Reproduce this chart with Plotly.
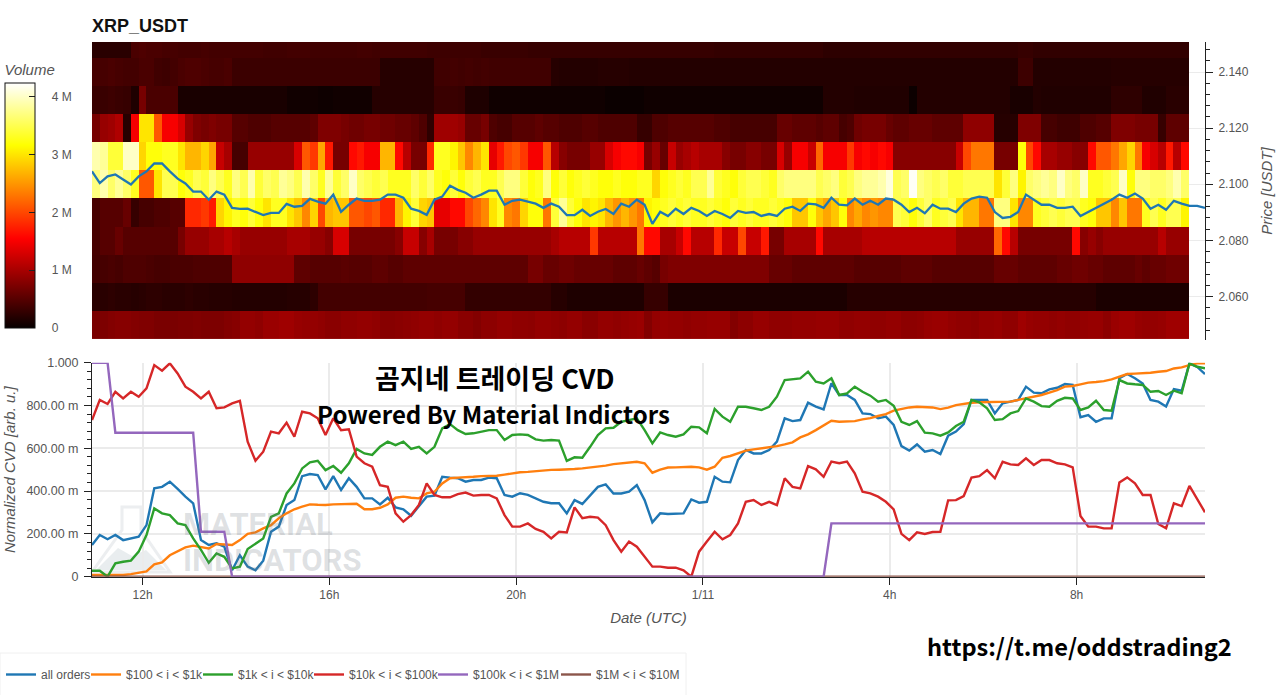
import pandas as pd
import plotly.graph_objects as go

# ---------- data ----------
start = "2025-01-10 10:55"
row_prices = [2.15, 2.14, 2.13, 2.12, 2.11, 2.10, 2.09, 2.08, 2.07, 2.06, 2.05]

v215 = [.22,.22,.22,.22,.22,.42,.45,.42,.42,.40,
        .40,.38,.38,.38,.40,.38,.38,.38,.38,.38,
        .38,.38,.36,.36,.36,.38,.38,.38,.36,.36,
        .36,.36,.36,.36,.38,.38,.36,.36,.36,.36,
        .36,.36,.36,.34,.34,.34,.34,.34,.34,.34,
        .32,.32,.32,.32,.32,.32,.30,.30,.30,.30,
        .30,.30,.30,.30,.30,.30,.30,.30,.30,.30,
        .30,.30,.30,.30,.30,.30,.30,.30,.30,.30,
        .28,.28,.28,.28,.28,.28,.28,.28,.28,.28,
        .28,.28,.28,.28,.24,.24,.24,.24,.24,.24,
        .27,.27,.27,.27,.27,.27,.27,.27,.27,.27,
        .27,.27,.27,.27,.27,.27,.27,.27,.27,.30,
        .30,.27,.27,.27,.27,.27,.27,.27,.27,.27,
        .27,.27,.27,.27,.27,.27,.27,.27,.27,.27,
        .27]
v214 = [.40,.40,.42,.40,.38,.38,.42,.42,.36,.34,
        .38,.42,.45,.45,.42,.40,.40,.42,.33,.33,
        .33,.33,.33,.33,.33,.33,.33,.33,.33,.33,
        .33,.33,.33,.33,.33,.33,.33,.20,.20,.20,
        .20,.20,.20,.20,.36,.36,.38,.36,.38,.36,
        .38,.36,.36,.36,.36,.36,.36,.36,.36,.20,
        .18,.18,.18,.18,.18,.20,.20,.20,.20,.18,
        .18,.18,.18,.18,.18,.18,.18,.18,.18,.18,
        .18,.18,.18,.18,.18,.18,.18,.18,.18,.18,
        .18,.18,.18,.18,.18,.18,.18,.18,.18,.18,
        .18,.18,.18,.18,.18,.18,.18,.18,.18,.18,
        .18,.18,.18,.18,.18,.18,.18,.18,.18,.34,
        .34,.18,.18,.18,.18,.18,.18,.18,.18,.18,
        .18,.20,.20,.20,.20,.20,.20,.20,.20,.20,
        .20]
v213 = [.32,.32,.34,.32,.30,.15,.70,.42,.42,.42,
        .42,.12,.12,.12,.12,.12,.12,.12,.12,.12,
        .12,.12,.12,.12,.12,.07,.07,.07,.07,.05,
        .05,.07,.07,.07,.07,.07,.20,.20,.20,.20,
        .20,.20,.20,.20,.32,.32,.32,.30,.15,.15,
        .15,.06,.06,.06,.06,.06,.06,.06,.06,.06,
        .06,.06,.06,.06,.06,.06,.03,.03,.03,.03,
        .03,.06,.06,.06,.06,.06,.06,.06,.06,.06,
        .06,.06,.06,.06,.06,.06,.06,.06,.06,.06,
        .06,.06,.06,.06,.18,.18,.18,.18,.16,.16,
        .16,.16,.16,.16,.16,.04,.18,.18,.18,.18,
        .18,.18,.18,.18,.18,.18,.18,.18,.12,.12,
        .12,.18,.16,.16,.16,.16,.16,.16,.16,.16,
        .16,.25,.25,.25,.25,.16,.16,.16,.22,.22,
        .22]
v212 = [.70,.90,.95,1.05,.20,1.50,3.00,3.00,2.10,1.50,
        1.50,1.30,.90,.75,.70,.75,.70,.70,.50,.50,
        .45,.45,.45,.50,.50,.50,.50,.50,.55,.75,
        .75,.75,.70,.65,.65,.70,.70,.65,.65,.60,
        .60,.55,.45,.25,.95,.95,.95,.90,.60,.60,
        .70,.45,.40,.40,.50,.50,.50,.55,.50,.50,
        .45,.45,.45,.50,.50,.45,.45,.45,.45,.45,
        .30,.30,.45,.45,.50,.50,.50,.50,.50,.50,
        .45,.45,.40,.40,.40,.40,.40,.40,.60,.60,
        .55,.55,.55,.50,.55,.55,.40,.45,.65,.70,
        .70,.70,.60,.55,.55,.60,.60,.60,.55,.55,
        .55,.55,.85,.85,.85,.85,.20,.20,.20,.75,
        .75,.75,.40,.40,.35,.35,.35,.45,.45,.50,
        .50,.75,.75,.75,.70,.70,.70,.30,.55,.55,
        .55]
v211 = [3.9,3.8,3.4,3.4,4.0,4.0,2.9,3.2,3.2,3.3,
        3.3,3.0,2.7,2.7,2.9,2.6,1.2,1.0,.40,.40,
        .90,.90,.90,.90,.90,.90,1.3,2.1,1.9,2.6,
        1.7,.70,.70,1.6,1.7,1.5,1.5,2.7,2.7,1.6,
        1.1,.70,.70,1.8,3.3,3.3,3.1,2.8,2.4,2.7,
        3.0,1.4,1.7,2.0,2.1,1.9,1.5,1.5,2.1,1.1,
        .80,.70,.70,.70,.90,.90,1.3,1.5,1.6,1.6,
        1.5,.70,.90,.60,1.2,.90,1.0,1.1,1.0,1.0,
        1.0,.80,.70,.70,.80,.80,.70,.70,1.3,.90,
        1.5,1.5,1.2,2.2,1.5,1.5,1.5,1.9,1.5,1.6,
        1.5,1.6,1.5,.80,.80,.80,.80,.80,.80,.80,
        .80,1.2,2.0,2.3,2.3,2.3,.70,.70,.70,3.2,
        2.0,1.6,1.0,1.0,.90,.90,.80,.80,1.6,2.1,
        2.1,2.3,2.6,2.9,2.3,1.5,1.3,1.1,1.7,1.1,
        1.6]
v210 = [3.7,3.9,3.6,3.8,3.6,3.3,2.1,2.1,3.0,3.5,
        3.5,3.2,3.3,3.5,3.4,3.7,3.5,3.3,3.7,3.5,
        3.9,3.4,3.6,3.5,3.8,3.7,3.5,3.9,3.6,3.3,
        3.8,3.4,3.6,4.0,3.6,3.5,3.4,3.5,3.3,3.3,
        3.3,3.6,3.4,3.6,3.3,3.2,3.4,3.2,3.4,3.5,
        3.3,3.3,3.5,3.7,3.7,3.4,3.2,3.3,3.7,3.2,
        3.4,3.2,3.3,3.4,3.3,3.2,3.2,3.3,3.2,3.2,
        3.3,3.3,2.9,3.2,3.3,3.4,3.3,3.5,3.5,3.8,
        3.4,3.3,3.2,3.4,3.5,3.5,3.4,3.3,3.6,3.7,
        3.7,3.7,3.7,3.5,3.6,3.7,3.4,3.5,3.7,3.8,
        3.8,3.9,4.1,3.5,3.6,4.2,3.7,3.6,3.5,3.6,
        3.4,3.4,3.5,3.5,3.5,3.5,3.0,3.4,3.7,3.1,
        3.6,3.7,3.8,3.7,4.0,3.7,3.6,4.0,3.3,3.3,
        3.4,3.5,4.0,3.2,3.7,3.7,3.6,3.6,3.7,3.9,
        3.6]
v209 = [.40,.50,.50,.50,.60,.30,.40,.40,.45,.45,
        .50,.50,1.8,1.8,1.9,1.7,2.9,3.1,3.3,3.2,
        3.4,3.2,3.0,3.3,3.3,3.0,2.8,2.4,2.9,2.0,
        2.7,2.8,2.8,2.1,2.1,2.0,2.1,1.8,1.8,2.7,
        3.1,3.4,2.9,2.8,1.4,1.4,1.6,1.6,2.0,2.2,
        2.4,3.0,3.3,2.4,2.3,2.9,3.2,3.2,2.3,3.4,
        3.8,3.4,3.2,3.0,3.1,3.0,2.7,2.5,2.7,2.5,
        2.3,3.1,3.2,3.3,3.4,3.3,3.4,3.3,3.3,3.4,
        3.3,3.2,3.4,3.3,3.4,3.3,3.3,3.4,3.3,3.2,
        2.8,2.8,3.2,2.8,2.6,2.8,3.2,2.4,2.6,2.4,
        2.5,2.4,2.4,3.5,3.4,3.2,3.4,3.6,3.3,3.4,
        3.5,3.0,2.7,2.7,2.3,2.3,3.7,3.7,3.0,2.4,
        2.4,3.3,3.4,3.5,3.4,3.5,3.5,3.3,3.2,2.8,
        2.8,2.4,2.8,2.3,2.3,3.3,3.5,3.3,3.5,3.5,
        3.1]
v208 = [.40,.50,.50,.60,.50,.50,.50,.50,.50,.50,
        .50,.70,.90,.90,.90,1.0,1.0,1.1,1.0,.90,
        .90,.90,.90,.90,.90,1.0,1.0,1.0,.90,.90,
        .80,1.3,1.3,.70,.70,.70,.70,.70,.70,.80,
        1.2,1.2,.80,1.0,.70,.70,.70,.80,.80,.90,
        .90,.90,.90,.90,.90,.90,.90,.90,.90,1.0,
        1.1,1.1,1.1,1.1,1.9,1.1,1.1,1.1,1.1,1.1,
        2.3,1.6,1.6,1.0,1.0,1.2,1.6,1.1,1.1,1.1,
        1.8,1.2,1.2,2.0,1.2,1.2,1.7,.70,.70,1.0,
        1.0,1.0,1.0,1.6,1.0,1.0,1.0,1.0,1.0,1.1,
        1.1,1.1,1.1,1.1,1.1,1.1,1.1,1.1,1.1,1.1,
        1.1,.90,.90,.90,.90,.90,2.2,1.6,1.1,.70,
        .70,.70,.70,.70,.70,.70,1.6,.80,.90,.80,
        .90,.90,.90,.90,.90,.90,.90,1.1,.90,.90,
        .90]
v207 = [.38,.40,.42,.40,.45,.45,.45,.42,.40,.40,
        .42,.42,.42,.45,.45,.45,.45,.45,.85,.85,
        .85,.85,.85,.85,.85,.85,.55,.55,.50,.50,
        .50,.50,.52,.50,.50,.50,.55,.55,.50,.50,
        .55,.55,.55,.55,.55,.55,.55,.55,.55,.55,
        .55,.55,.55,.55,.55,.55,.70,.70,.60,.60,
        .65,.65,.60,.60,.60,.60,.60,.55,.55,.55,
        .60,.55,.50,.70,.75,.75,.75,.75,.75,.75,
        .75,.75,.75,.75,.75,.75,.75,.60,.60,.60,
        .55,.55,.55,.55,.55,.55,.55,.55,.50,.50,
        .50,.50,.50,.50,.55,.55,.55,.55,.50,.50,
        .50,.50,.50,.50,.50,.50,.60,.60,.60,.55,
        .55,.55,.55,.55,.60,.60,.65,.65,.60,.60,
        .55,.55,.55,.55,.60,.55,.60,.60,.65,.65,
        .65]
v206 = [.22,.22,.24,.22,.22,.20,.22,.24,.24,.22,
        .22,.22,.24,.22,.22,.20,.20,.20,.18,.18,
        .18,.18,.18,.18,.18,.20,.20,.20,.24,.38,
        .38,.38,.38,.38,.38,.38,.38,.38,.38,.38,
        .38,.38,.38,.40,.40,.40,.40,.40,.28,.28,
        .28,.28,.28,.28,.28,.28,.28,.28,.28,.20,
        .20,.15,.15,.15,.15,.15,.15,.15,.15,.15,
        .15,.30,.30,.30,.13,.13,.13,.13,.13,.13,
        .13,.13,.13,.13,.13,.13,.13,.13,.13,.13,
        .13,.13,.13,.13,.13,.13,.13,.20,.20,.20,
        .20,.20,.20,.20,.20,.20,.20,.20,.20,.20,
        .20,.20,.20,.20,.20,.20,.20,.20,.20,.20,
        .20,.20,.20,.20,.20,.20,.20,.20,.20,.13,
        .13,.13,.13,.13,.13,.13,.13,.13,.13,.13,
        .13]
v205 = [.72,.74,.78,.80,.80,.78,.76,.76,.72,.72,
        .72,.74,.74,.76,.74,.74,.74,.78,.80,.88,
        .88,.85,.92,.92,.95,.95,.90,.88,.88,.86,
        .82,.82,.86,.86,.88,.88,.86,.80,.80,.82,
        .84,.86,.88,.88,.85,.88,.88,.82,.82,.78,
        .84,.84,.88,.88,.85,.85,.84,.88,.88,.86,
        .84,.88,.88,.82,.82,.88,.88,.86,.88,.90,
        .92,.78,.88,.90,.88,.88,.86,.88,.88,.90,
        .90,.90,.78,.84,.84,.90,.90,.86,.86,.86,
        .88,.88,.88,.90,.90,.90,.86,.86,.88,.88,
        .86,.86,.88,.88,.84,.84,.86,.90,.92,.92,
        .88,.86,.86,.84,.88,.88,.90,.86,.86,.95,
        .90,.88,.88,.86,.88,.86,.86,.88,.90,.90,
        .84,.92,.95,.95,.90,.88,.88,.90,.95,.95,
        .95]

price = [2.1046,2.1004,2.1028,2.1035,2.1017,2.0999,2.1028,2.1046,2.1074,2.1074,
         2.1046,2.1020,2.1003,2.0974,2.0974,2.0945,2.0974,2.0963,2.0916,2.0912,
         2.0913,2.0902,2.0890,2.0898,2.0898,2.0930,2.0920,2.0923,2.0948,2.0938,
         2.0931,2.0963,2.0902,2.0927,2.0949,2.0941,2.0941,2.0945,2.0963,2.0963,
         2.0952,2.0913,2.0905,2.0891,2.0945,2.0956,2.0995,2.0980,2.0970,2.0952,
         2.0963,2.0977,2.0977,2.0927,2.0941,2.0945,2.0938,2.0931,2.0916,2.0931,
         2.0920,2.0890,2.0890,2.0909,2.0887,2.0902,2.0912,2.0894,2.0931,2.0920,
         2.0945,2.0927,2.0859,2.0902,2.0887,2.0913,2.0894,2.0916,2.0905,2.0887,
         2.0905,2.0894,2.0880,2.0905,2.0898,2.0901,2.0887,2.0894,2.0887,2.0913,
         2.0920,2.0905,2.0931,2.0928,2.0916,2.0952,2.0927,2.0925,2.0949,2.0927,
         2.0941,2.0927,2.0949,2.0945,2.0927,2.0901,2.0916,2.0897,2.0927,2.0913,
         2.0913,2.0901,2.0931,2.0949,2.0956,2.0952,2.0901,2.0880,2.0884,2.0901,
         2.0963,2.0945,2.0927,2.0927,2.0916,2.0916,2.0920,2.0887,2.0901,2.0916,
         2.0931,2.0945,2.0963,2.0952,2.0967,2.0949,2.0913,2.0927,2.0909,2.0941,
         2.0931,2.0923,2.0923,2.0916]

all_orders = [.148,.195,.175,.195,.171,.179,.187,.241,.413,.420,
              .444,.410,.374,.343,.171,.148,.156,.140,.030,.100,
              .047,.030,.075,.210,.234,.335,.358,.470,.480,.475,
              .408,.470,.405,.460,.420,.366,.366,.338,.369,.324,
              .315,.285,.327,.374,.379,.467,.463,.460,.444,.452,
              .452,.463,.460,.382,.374,.390,.382,.366,.350,.343,
              .343,.296,.358,.340,.382,.420,.431,.389,.389,.397,
              .428,.358,.254,.296,.293,.293,.296,.361,.346,.350,
              .467,.444,.441,.545,.592,.576,.576,.592,.631,.740,
              .727,.732,.813,.795,.782,.904,.849,.849,.826,.763,
              .760,.740,.748,.709,.610,.589,.618,.584,.592,.573,
              .659,.678,.713,.826,.826,.826,.763,.810,.818,.826,
              .888,.860,.857,.875,.883,.900,.896,.745,.755,.724,
              .740,.740,.927,.947,.927,.903,.826,.818,.795,.877,
              .869,.997,.980,.947]
orders_100_1k = [.008,.008,.008,.008,.008,.012,.020,.025,.058,.067,
                 .100,.120,.137,.145,.140,.132,.153,.150,.148,.171,
                 .200,.207,.226,.241,.273,.296,.315,.327,.338,.336,
                 .335,.338,.338,.340,.341,.315,.315,.322,.338,.369,
                 .374,.369,.366,.389,.397,.436,.460,.463,.464,.467,
                 .470,.470,.472,.477,.483,.488,.490,.494,.497,.499,
                 .500,.500,.503,.506,.510,.514,.519,.526,.530,.534,
                 .537,.530,.486,.500,.510,.511,.512,.514,.511,.500,
                 .514,.556,.564,.576,.589,.595,.600,.603,.610,.618,
                 .628,.651,.665,.685,.709,.729,.724,.727,.727,.735,
                 .741,.751,.760,.776,.785,.791,.794,.794,.791,.783,
                 .790,.802,.808,.813,.815,.815,.815,.815,.818,.826,
                 .833,.840,.849,.860,.872,.888,.891,.899,.907,.910,
                 .914,.922,.935,.947,.949,.950,.953,.958,.961,.973,
                 .978,.989,.997,.997]
orders_1k_10k = [.028,.028,.000,.062,.070,.075,.117,.195,.319,.296,
                 .288,.249,.241,.179,.125,.065,.109,.093,.039,.047,
                 .129,.153,.179,.280,.296,.389,.436,.506,.534,.542,
                 .498,.517,.486,.530,.597,.576,.569,.607,.631,.615,
                 .631,.597,.607,.576,.607,.693,.713,.685,.667,.670,
                 .678,.685,.685,.639,.662,.665,.662,.642,.636,.639,
                 .636,.541,.558,.556,.607,.662,.693,.696,.724,.732,
                 .740,.685,.623,.674,.662,.654,.665,.701,.698,.670,
                 .784,.748,.724,.794,.794,.787,.779,.794,.841,.919,
                 .922,.927,.958,.911,.903,.927,.849,.857,.888,.864,
                 .846,.818,.826,.799,.724,.709,.727,.673,.670,.659,
                 .674,.704,.724,.826,.815,.787,.732,.736,.763,.774,
                 .833,.818,.797,.794,.822,.836,.833,.779,.791,.822,
                 .779,.776,.919,.903,.899,.896,.864,.868,.849,.869,
                 .857,.997,.981,.974]
orders_10k_100k = [.732,.826,.807,.864,.833,.864,.841,.880,.989,.963,
                   .997,.950,.888,.864,.833,.864,.787,.791,.810,.822,
                   .631,.542,.584,.678,.670,.720,.654,.771,.763,.740,
                   .662,.740,.685,.689,.561,.530,.514,.428,.420,.296,
                   .257,.288,.335,.436,.382,.371,.371,.386,.393,.379,
                   .382,.382,.366,.288,.234,.234,.249,.223,.210,.179,
                   .210,.207,.324,.273,.280,.276,.241,.171,.117,.164,
                   .140,.093,.047,.047,.042,.042,.030,.000,.117,.164,
                   .210,.175,.195,.249,.350,.358,.335,.350,.335,.460,
                   .420,.413,.517,.502,.467,.538,.530,.538,.483,.397,
                   .389,.374,.350,.315,.200,.171,.207,.200,.209,.210,
                   .357,.358,.377,.463,.470,.498,.460,.537,.525,.522,
                   .553,.522,.545,.545,.530,.525,.511,.284,.234,.234,
                   .226,.226,.440,.464,.436,.382,.382,.246,.226,.343,
                   .330,.424,.363,.301]
orders_100k_1m = [1.0,1.0,1.0,.673,.673,.673,.673,.673,.673,.673,
                  .673,.673,.673,.673,.210,.210,.210,.210,0,0,
                  0,0,0,0,0,0,0,0,0,0,
                  0,0,0,0,0,0,0,0,0,0,
                  0,0,0,0,0,0,0,0,0,0,
                  0,0,0,0,0,0,0,0,0,0,
                  0,0,0,0,0,0,0,0,0,0,
                  0,0,0,0,0,0,0,0,0,0,
                  0,0,0,0,0,0,0,0,0,0,
                  0,0,0,0,0,.249,.249,.249,.249,.249,
                  .249,.249,.249,.249,.249,.249,.249,.249,.249,.249,
                  .249,.249,.249,.249,.249,.249,.249,.249,.249,.249,
                  .249,.249,.249,.249,.249,.249,.249,.249,.249,.249,
                  .249,.249,.249,.249,.249,.249,.249,.249,.249,.249,
                  .249,.249,.249,.249]
orders_1m_10m = [0] * 144

series_names = ["all orders", "$100 < i < $1k", "$1k < i < $10k",
                "$10k < i < $100k", "$100k < i < $1M", "$1M < i < $10M"]
series_colors = ["#1f77b4", "#ff7f0e", "#2ca02c", "#d62728", "#9467bd", "#8c564b"]
series_values = [all_orders, orders_100_1k, orders_1k_10k,
                 orders_10k_100k, orders_100k_1m, orders_1m_10m]
legend_widths = [40, 67, 66, 79, 78, 90]
draw_order = [0, 1, 2, 3, 5, 4]   # purple is painted over the flat brown series

x_tick_dates = ["2025-01-10 12:00", "2025-01-10 16:00", "2025-01-10 20:00",
                "2025-01-11 00:00", "2025-01-11 04:00", "2025-01-11 08:00"]
x_tick_labels = ["12h", "16h", "20h", "1/11", "4h", "8h"]
cvd_tick_vals = [0, .2, .4, .6, .8, 1.0]
cvd_tick_labels = ["0", "200.00 m", "400.00 m", "600.00 m", "800.00 m", "1.000"]
price_tick_vals = [2.06, 2.08, 2.10, 2.12, 2.14]
price_tick_labels = ["2.060", "2.080", "2.100", "2.120", "2.140"]
bar_tick_vals = [0, 1, 2, 3, 4]
bar_tick_labels = ["\u00a0\u00a0\u00a0\u00a00", "\u00a0\u00a0\u00a0\u00a01 M", "\u00a0\u00a0\u00a0\u00a02 M",
                   "\u00a0\u00a0\u00a0\u00a03 M", "\u00a0\u00a0\u00a0\u00a04 M"]

# ---------- layout helpers: zero margins, so paper fractions map directly to pixels ----------
W, H = 1280, 695
L, R = 92, 1205
def px(x): return x / W
def py(y): return (H - y) / H

FONT = "Liberation Sans"
GREY = "#555555"
GRID = "#ebebeb"
AXIS = "#222222"

line_t = pd.date_range(start, periods=144, freq="10min")
cell_t = pd.date_range(pd.Timestamp(start) + pd.Timedelta(minutes=5), periods=141, freq="10min")
heat = [v215, v214, v213, v212, v211, v210, v209, v208, v207, v206, v205]

hot = [[0, "rgb(6,0,0)"], [0.365, "rgb(255,0,0)"], [0.746, "rgb(255,255,0)"], [1, "rgb(255,255,255)"]]

fig = go.Figure()
fig.add_trace(go.Heatmap(
    x=cell_t, y=row_prices, z=heat, xaxis="x2", yaxis="y2",
    colorscale=hot, zmin=0, zmax=4.24, hoverinfo="skip", showlegend=False,
    colorbar=dict(
        x=px(5), xanchor="left", xpad=0, y=py(61), yanchor="top", ypad=0,
        thickness=30, lenmode="pixels", len=267,
        outlinecolor="#111111", outlinewidth=1, borderwidth=0,
        tickvals=bar_tick_vals, ticktext=bar_tick_labels,
        ticks="inside", ticklen=6, tickcolor=AXIS,
        tickfont=dict(family=FONT, size=12, color=GREY),
        title=dict(text="Volume", side="top",
                   font=dict(family=FONT, size=15, color=GREY, style="italic")),
    ),
))
fig.add_trace(go.Scatter(
    x=line_t, y=price, xaxis="x2", yaxis="y2", mode="lines",
    line=dict(color="#1f77b4", width=2.3), showlegend=False, hoverinfo="skip",
))
for i in draw_order:
    fig.add_trace(go.Scatter(
        x=line_t, y=series_values[i], mode="lines", name=series_names[i],
        legendwidth=legend_widths[i], legendrank=i + 1,
        line=dict(color=series_colors[i], width=2.4), hoverinfo="skip",
    ))

x_range = [line_t[0], line_t[-1]]
fig.update_layout(
    width=W, height=H, autosize=False,
    margin=dict(l=0, r=0, t=0, b=0, pad=0, autoexpand=False),
    paper_bgcolor="white", plot_bgcolor="white",
    font=dict(family=FONT, size=12, color=GREY),
    title=dict(text="<b>XRP_USDT</b>", x=L / W, xanchor="left", y=1 - 26 / H, yanchor="middle",
               font=dict(family=FONT, size=18, color="#111111")),
    xaxis=dict(
        domain=[px(L), px(R)], range=x_range, type="date", anchor="y",
        tickvals=x_tick_dates, ticktext=x_tick_labels,
        ticks="outside", ticklen=7, tickcolor=AXIS, showline=True, linecolor=AXIS,
        showgrid=True, gridcolor=GRID, gridwidth=1.5, zeroline=False,
        tickfont=dict(family=FONT, size=12, color=GREY),
        title=dict(text="Date (UTC)", standoff=11,
                   font=dict(family=FONT, size=15, color=GREY, style="italic")),
    ),
    yaxis=dict(
        domain=[py(576.7), py(362.7)], range=[0, 1], anchor="x",
        tickvals=cvd_tick_vals, ticktext=cvd_tick_labels,
        ticks="outside", ticklen=7, tickcolor=AXIS, showline=True, linecolor=AXIS,
        minor=dict(tickmode="linear", tick0=0, dtick=.04, ticks="outside", ticklen=4, tickcolor=AXIS, showgrid=False),
        showgrid=True, gridcolor=GRID, gridwidth=1.5, zeroline=False, ticklabelstandoff=3,
        tickfont=dict(family=FONT, size=12.5, color=GREY),
        title=dict(text="Normalized CVD [arb. u.]", standoff=7,
                   font=dict(family=FONT, size=15, color=GREY, style="italic")),
    ),
    xaxis2=dict(domain=[px(L), px(R)], matches="x", anchor="y2", visible=False),
    yaxis2=dict(
        domain=[py(340), py(42)], range=[2.0445, 2.1507], anchor="x2", side="right",
        tickvals=price_tick_vals, ticktext=price_tick_labels,
        ticks="outside", ticklen=7, tickcolor=AXIS, showline=True, linecolor=AXIS,
        minor=dict(tickmode="linear", tick0=2.0, dtick=.004, ticks="outside", ticklen=4, tickcolor=AXIS, showgrid=False),
        showgrid=True, gridcolor=GRID, gridwidth=1, zeroline=False, ticklabelstandoff=3,
        tickfont=dict(family=FONT, size=12, color=GREY),
        title=dict(text="Price [USDT]", standoff=13,
                   font=dict(family=FONT, size=15, color=GREY, style="italic")),
    ),
    legend=dict(
        orientation="h", x=px(1), xanchor="left", y=py(660), yanchor="top",
        bgcolor="rgba(0,0,0,0)", borderwidth=0,
        itemwidth=30, font=dict(family=FONT, size=12, color=GREY), traceorder="normal",
    ),
)

# faint legend box
fig.add_shape(type="rect", xref="paper", yref="paper", layer="below",
              x0=px(0), x1=px(686), y0=py(696), y1=py(653),
              line=dict(color="#f0f0f0", width=1), fillcolor="white")

# watermark (flask logo + wordmark) and overlaid captions
wm = "rgba(110,120,130,0.22)"
fig.add_shape(type="path", xref="paper", yref="paper", layer="below",
              path=f"M {px(122)} {py(507)} L {px(141)} {py(507)} L {px(141)} {py(530)} L {px(170)} {py(572)} "
                   f"L {px(92)} {py(572)} L {px(122)} {py(530)} Z",
              line=dict(color="#eceef0", width=3), fillcolor="rgba(0,0,0,0)")
fig.add_shape(type="path", xref="paper", yref="paper", layer="below",
              path=f"M {px(96)} {py(570)} L {px(118)} {py(548)} L {px(132)} {py(556)} L {px(146)} {py(550)} "
                   f"L {px(166)} {py(570)} Z",
              line=dict(width=0), fillcolor="#e9edef")

def text(x, y, s, size, color="#000000", family="Noto Sans CJK KR", xanchor="left"):
    fig.add_annotation(x=px(x), y=py(y), xref="paper", yref="paper", text=f"<b>{s}</b>",
                       showarrow=False, xanchor=xanchor, yanchor="middle", borderpad=0,
                       font=dict(family=family, size=size, color=color))

text(182, 524, "MATERIAL", 31, wm, "Liberation Sans Narrow, Roboto")
text(182, 560, "INDICATORS", 31, wm, "Liberation Sans Narrow, Roboto")
text(495, 377, "곰지네 트레이딩 CVD", 27, xanchor="center")
text(493, 414, "Powered By Material Indictors", 24, xanchor="center")
text(926, 646, "https://t.me/oddstrading2", 23.6)

fig.write_html("out.html", config=dict(displayModeBar=False),
               post_script="document.body.style.margin='0';document.body.style.overflow='hidden';")
